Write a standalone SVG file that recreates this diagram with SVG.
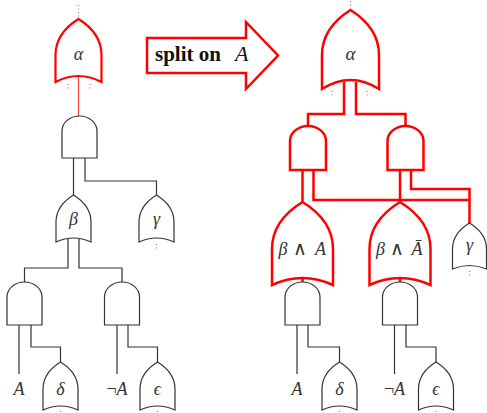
<svg xmlns="http://www.w3.org/2000/svg" width="487" height="413" viewBox="0 0 487 413">
<style>
.gr{fill:#fff;stroke:#f00;stroke-width:2.5;stroke-linejoin:miter}
.gb{fill:#fff;stroke:#333;stroke-width:1.2}
.w{fill:none;stroke:#333;stroke-width:1.2}
.wr{fill:none;stroke:#f00;stroke-width:2.5}
.dot{fill:none;stroke:#777;stroke-width:1;stroke-dasharray:1 2.5}
.lbl{font-family:"Liberation Serif","DejaVu Serif",serif;font-style:italic;font-size:18px;fill:#333;text-anchor:middle}
.up{font-style:normal}
.op{font-family:"DejaVu Sans",sans-serif;font-style:normal;font-weight:200;font-size:19px;fill:#333;text-anchor:middle}
</style>
<rect width="487" height="413" fill="#fff"/>
<g id="connectors">
  <path class="dot" d="M78.5,5V17M68,84V91M90,84V91M350.5,1V8M332,91V97M367,91V97M156.5,244V250M469.5,271V278M60.5,411V413M157.5,411V413M339.5,411V413M436,411V413"/>
  <path d="M78.5,76V117" fill="none" stroke="#f44" stroke-width="1.2"/>
  <path class="w" d="M73.5,158V196M85,158V181H156.5V196"/>
  <path class="w" d="M68,237V268H24.5V283M79,237V268H122V283"/>
  <path class="w" d="M19,325V374M31,325V347H60.5V363M117,325V374M128,325V347H157.5V363"/>
  <path class="wr" d="M344,82V114H308V127M356,82V114H405.5V127"/>
  <path class="wr" d="M302.5,170V203M313.5,170V200H469.5V224M400,170V203M411,170V189H469.5V200"/>
  <path class="wr" d="M302.5,277V284M400,277V284"/>
  <path class="w" d="M297,325V374M308,325V347H339.5V363M394.5,325V374M406,325V347H436V363"/>
</g>
<g id="split-arrow">
  <polygon points="147,38 246,38 246,22 278,55.5 246,89 246,73 147,73" fill="#fff" stroke="#f00" stroke-width="2.5"/>
  <text x="155" y="61" font-family="Liberation Serif,serif" font-size="21" font-weight="bold" fill="#111">split on<tspan x="235" font-style="italic" font-weight="normal" font-size="22">A</tspan></text>
</g>
<g id="alpha-left">
  <path d="M78.5,19 C90,26.2 101.5,37 101.5,55 L101.5,82 Q78.5,70 55.5,82 L55.5,55 C55.5,37 67,26.2 78.5,19 Z" fill="#fff" stroke="#f00" stroke-width="2.2"/>
  <text class="lbl" x="78.5" y="60">α</text>
</g>
<g id="and-top-left"><path class="gb" d="M62,158 L62,131 A17.5,15 0 0 1 97,131 L97,158 Z"/></g>
<g id="beta-left">
  <path class="gb" d="M73.5,195 C82.25,200.4 91,208.5 91,222 L91,242 Q73.5,234 56,242 L56,222 C56,208.5 64.75,200.4 73.5,195 Z"/>
  <text class="lbl" x="73.5" y="225">β</text>
</g>
<g id="gamma-left">
  <path class="gb" d="M156.5,195 C165.25,200.4 174,208.5 174,222 L174,242 Q156.5,234 139,242 L139,222 C139,208.5 147.75,200.4 156.5,195 Z"/>
  <text class="lbl" x="156.5" y="225">γ</text>
</g>
<g id="and-left-a"><path class="gb" d="M7,325 L7,297 A17.5,15 0 0 1 42,297 L42,325 Z"/></g>
<g id="and-left-b"><path class="gb" d="M104.5,325 L104.5,297 A17.5,15 0 0 1 139.5,297 L139.5,325 Z"/></g>
<g id="leaf-A-left"><text class="lbl" x="19" y="395">A</text></g>
<g id="leaf-notA-left"><text class="lbl" x="117" y="395"><tspan class="up">¬</tspan>A</text></g>
<g id="delta-left">
  <path class="gb" d="M60.5,362 C69.25,367.4 78,375.5 78,389 L78,410 Q60.5,402 43,410 L43,389 C43,375.5 51.75,367.4 60.5,362 Z"/>
  <text class="lbl" x="60.5" y="395">δ</text>
</g>
<g id="eps-left">
  <path class="gb" d="M157.5,362 C166.25,367.4 175,375.5 175,389 L175,410 Q157.5,402 140,410 L140,389 C140,375.5 148.75,367.4 157.5,362 Z"/>
  <text class="lbl" x="157.5" y="395">ϵ</text>
</g>
<g id="alpha-right">
  <path class="gr" d="M350.5,10 C364.75,19 379,32.5 379,55 L379,89 Q350.5,71 322,89 L322,55 C322,32.5 336.25,19 350.5,10 Z"/>
  <text class="lbl" x="350.5" y="60" style="font-size:19px">α</text>
</g>
<g id="and-red-left"><path class="gr" d="M290,170 L290,141 A18,15 0 0 1 326,141 L326,170 Z"/></g>
<g id="and-red-right"><path class="gr" d="M387.5,170 L387.5,141 A18,15 0 0 1 423.5,141 L423.5,170 Z"/></g>
<g id="beta-and-A">
  <path class="gr" d="M302.5,202 C317.75,211.4 333,225.5 333,249 L333,285 Q302.5,271 272,285 L272,249 C272,225.5 287.25,211.4 302.5,202 Z"/>
  <text class="lbl" x="283" y="255">β</text><text class="op" x="300" y="255">∧</text><text class="lbl" x="320.5" y="255">A</text>
</g>
<g id="beta-and-Abar">
  <path class="gr" d="M400,202 C415.25,211.4 430.5,225.5 430.5,249 L430.5,285 Q400,271 369.5,285 L369.5,249 C369.5,225.5 384.75,211.4 400,202 Z"/>
  <text class="lbl" x="380.5" y="255">β</text><text class="op" x="397" y="255">∧</text><text class="lbl" x="417" y="255">Ā</text>
</g>
<g id="gamma-right">
  <path class="gb" d="M469.5,223 C478,228.2 486.5,236 486.5,249 L486.5,269 Q469.5,262 452.5,269 L452.5,249 C452.5,236 461,228.2 469.5,223 Z"/>
  <text class="lbl" x="469.5" y="251">γ</text>
</g>
<g id="and-right-a"><path class="gb" d="M285,325 L285,297 A17.5,15 0 0 1 320,297 L320,325 Z"/></g>
<g id="and-right-b"><path class="gb" d="M382.5,325 L382.5,297 A17.5,15 0 0 1 417.5,297 L417.5,325 Z"/></g>
<g id="leaf-A-right"><text class="lbl" x="297" y="395">A</text></g>
<g id="leaf-notA-right"><text class="lbl" x="394.5" y="395"><tspan class="up">¬</tspan>A</text></g>
<g id="delta-right">
  <path class="gb" d="M339.5,362 C348.25,367.4 357,375.5 357,389 L357,410 Q339.5,402 322,410 L322,389 C322,375.5 330.75,367.4 339.5,362 Z"/>
  <text class="lbl" x="339.5" y="395">δ</text>
</g>
<g id="eps-right">
  <path class="gb" d="M436,362 C444.75,367.4 453.5,375.5 453.5,389 L453.5,410 Q436,402 418.5,410 L418.5,389 C418.5,375.5 427.25,367.4 436,362 Z"/>
  <text class="lbl" x="436" y="395">ϵ</text>
</g>
</svg>
